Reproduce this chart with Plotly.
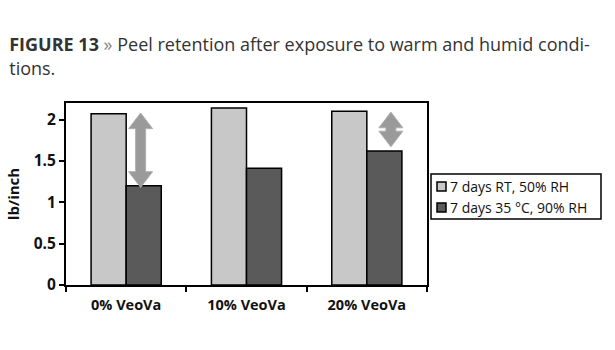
import plotly.graph_objects as go

categories = ["0% VeoVa", "10% VeoVa", "20% VeoVa"]
series_names = ["7 days RT, 50% RH", "7 days 35 °C, 90% RH"]
rt_values = [2.07, 2.14, 2.10]
humid_values = [1.20, 1.41, 1.62]
y_ticks = [0, 0.5, 1, 1.5, 2]
y_tick_labels = ["0", "0.5", "1", "1.5", "2"]
colors = ["#c8c8c8", "#5a5a5a"]

# arrows: (category index, horizontal offset, top value, bottom value)
arrow_cats = [0, 2]
arrow_offsets = [0.12, 0.20]
arrow_tops = [2.08, 2.09]
arrow_bottoms = [1.18, 1.67]

fig = go.Figure()
fig.add_trace(go.Bar(x=categories, y=rt_values, name=series_names[0],
                     marker=dict(color=colors[0], line=dict(color="#000", width=1.5))))
fig.add_trace(go.Bar(x=categories, y=humid_values, name=series_names[1],
                     marker=dict(color=colors[1], line=dict(color="#000", width=1.5))))

head = 0.19
for ci, off, top, bot in zip(arrow_cats, arrow_offsets, arrow_tops, arrow_bottoms):
    hw, sw = 12, 5
    path = (f"M 0 {top} L {hw} {top-head} L {sw} {top-head} L {sw} {bot+head} "
            f"L {hw} {bot+head} L 0 {bot} L {-hw} {bot+head} L {-sw} {bot+head} "
            f"L {-sw} {top-head} L {-hw} {top-head} Z")
    fig.add_shape(type="path", xref="x", yref="y", xsizemode="pixel",
                  xanchor=ci + off, path=path,
                  fillcolor="#9a9a9a", line=dict(color="#b0b0b0", width=1))

font_fam = "Open Sans, Noto Sans, sans-serif"

# custom legend (paper coords of plot area: x 66..427 px, y 285..103 px)
W, H = 361.0, 182.0
def px(xp):
    return (xp - 66) / W
def py(yp):
    return (285 - yp) / H

fig.add_shape(type="rect", xref="paper", yref="paper",
              x0=px(431), x1=px(601), y0=py(219), y1=py(174),
              line=dict(color="#000", width=1.5), fillcolor="white", layer="above")
for i, (name, col) in enumerate(zip(series_names, colors)):
    cy = 186.5 + 21 * i
    fig.add_shape(type="rect", xref="paper", yref="paper",
                  x0=px(437), x1=px(446), y0=py(cy + 4.5), y1=py(cy - 4.5),
                  line=dict(color="#000", width=1.5), fillcolor=col, layer="above")
    fig.add_annotation(xref="paper", yref="paper", x=px(448), y=py(cy),
                       xanchor="left", yanchor="middle", showarrow=False,
                       text=name, font=dict(size=14, family=font_fam, color="#111"))

fig.update_layout(
    width=615, height=350,
    margin=dict(l=66, r=188, t=103, b=65),
    paper_bgcolor="white", plot_bgcolor="white",
    barmode="group", bargap=0.417, bargroupgap=0,
    font=dict(family=font_fam, color="#111"),
    showlegend=False,
    title=dict(
        text=("<b>FIGURE 13</b> <span style='color:#888'>»</span> Peel retention after exposure to warm and humid condi-"
              "<br>tions."),
        x=0.015, xanchor="left", y=0.853, yanchor="top",
        font=dict(family=font_fam, size=18, color="#333")),
    xaxis=dict(type="category", range=[-0.5, 2.5], showline=True, linecolor="#000", linewidth=2,
               mirror=True, ticks="outside", tickson="boundaries", ticklen=5,
               tickcolor="#000", tickwidth=1.5, ticklabelstandoff=6,
               tickfont=dict(size=14.5, family=font_fam, color="#111", weight="bold"),
               showgrid=False),
    yaxis=dict(range=[0, 2.2], tickvals=y_ticks, ticktext=y_tick_labels,
               showline=True, linecolor="#000", linewidth=2, mirror=True,
               ticks="outside", ticklen=5, tickcolor="#000", tickwidth=1.5,
               tickfont=dict(size=15.5, family=font_fam, color="#111", weight="bold"),
               showgrid=False, zeroline=False,
               title=dict(text="<b>lb/inch</b>", font=dict(size=15, family=font_fam, color="#111"),
                          standoff=10)),
)

fig.write_html("out.html")
